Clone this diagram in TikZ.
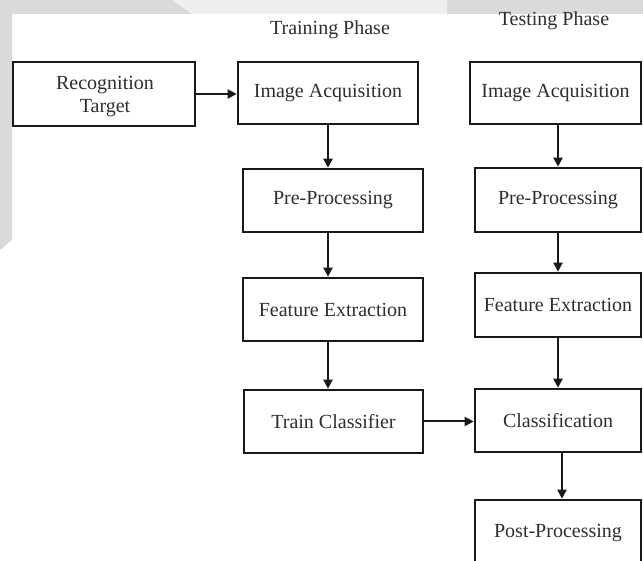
\documentclass[tikz,border=0pt]{standalone}
\usepackage{fontspec}
\setmainfont{Liberation Serif}
\usetikzlibrary{arrows.meta}
\definecolor{txt}{HTML}{2E2E2E}
\definecolor{wm}{HTML}{DADADA}
\definecolor{wmlight}{HTML}{EFEFEF}
\begin{document}
\begin{tikzpicture}[x=0.5pt,y=-0.5pt,
  box/.style={draw=black!90, line width=1.3pt, rectangle, inner sep=0pt,
    font=\fontsize{10}{11}\selectfont, text=txt, align=center},
  title/.style={font=\fontsize{10}{11}\selectfont, text=txt, inner sep=0pt},
  arr/.style={draw=black!90, line width=1pt, -{Triangle[length=4.5pt,width=4.5pt]}}]
\useasboundingbox (0,0) rectangle (643,561);
\clip (0,0) rectangle (643,561);
% watermark remnants
\fill[wm] (0,0) rectangle (643,14);
\fill[wmlight] (172,0) -- (192,14) -- (447,14) -- (447,0) -- cycle;
\fill[wm] (0,14) -- (12,14) -- (12,240) -- (0,250) -- cycle;
% titles
\node[title] (trn) at (330,30) {Training Phase};
\node[title] (tst) at (554,21) {Testing Phase};
% left box
\node[box, minimum width=91pt, minimum height=32pt] (rt) at (104,94) {};
\node[box, draw=none] (rtt) at (105,97) {Recognition\\[0.5pt]Target};
% training column
\node[box, minimum width=90pt, minimum height=31pt] (tia) at (328,93) {Image Acquisition};
\node[box, minimum width=90pt, minimum height=31.5pt] (tpp) at (333,200.5) {Pre-Processing};
\node[box, minimum width=90pt, minimum height=31.5pt] (tfe) at (333,309.5) {Feature Extraction};
\node[box, minimum width=89.5pt, minimum height=31.5pt] (tc) at (333.5,421.5) {Train Classifier};
% testing column
\node[box, minimum width=85.5pt, minimum height=31pt] (sia) at (555.5,93) {Image Acquisition};
\node[box, minimum width=83pt, minimum height=32pt] (spp) at (558,200) {Pre-Processing};
\node[box, minimum width=83pt, minimum height=32pt] (sfe) at (558,305) {Feature Extraction};
\node[box, minimum width=83pt, minimum height=31.5pt] (scl) at (558,420.5) {Classification};
\node[box, minimum width=83pt, minimum height=33pt] (spo) at (558,533) {Post-Processing};
% connectors
\draw[arr] (rt.east) -- (rt.east -| tia.west);
\draw[arr] (tia.south) -- (tia.south |- tpp.north);
\draw[arr] (tpp.south -| tia.south) -- (tfe.north -| tia.south);
\draw[arr] (tfe.south -| tia.south) -- (tc.north -| tia.south);
\draw[arr] (tc.east) -- (tc.east -| scl.west);
\draw[arr] (sia.south -| spp.north) -- (spp.north);
\draw[arr] (spp.south) -- (sfe.north);
\draw[arr] (sfe.south) -- (scl.north);
\draw[arr] ([xshift=2pt]scl.south) -- ([xshift=2pt]spo.north);
\end{tikzpicture}
\end{document}
